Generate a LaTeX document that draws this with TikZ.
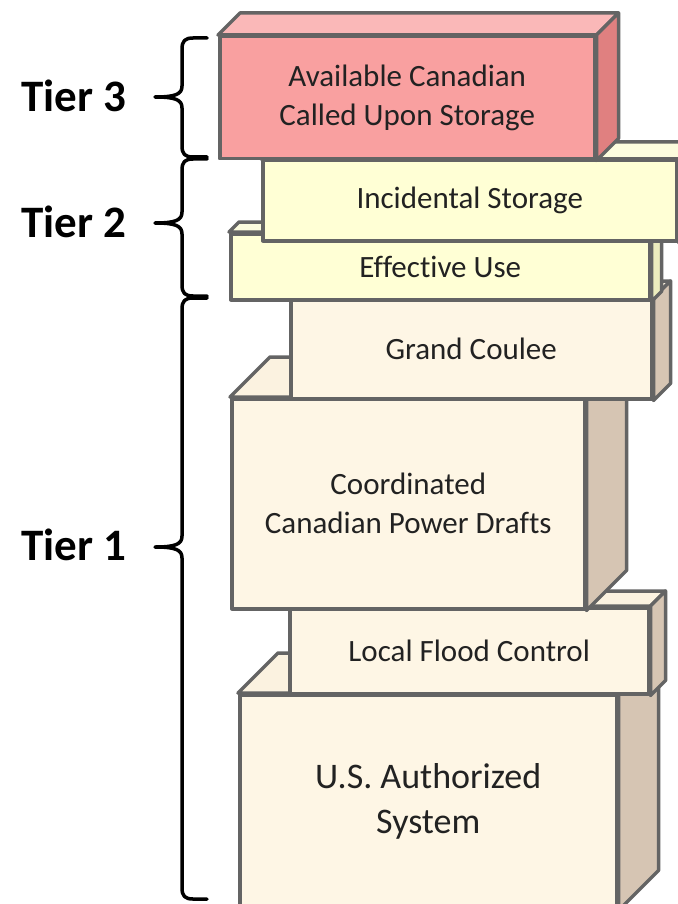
\documentclass[tikz,border=0pt]{standalone}
\usepackage{fontspec}
\setmainfont{Carlito}[Ligatures=NoCommon]
\usepackage{tikz}
\usetikzlibrary{positioning,shapes}

\definecolor{edgegray}{RGB}{100,100,100}
\definecolor{textgray}{RGB}{34,34,34}
\definecolor{redfront}{RGB}{249,160,160}
\definecolor{redtop}{RGB}{250,184,184}
\definecolor{redside}{RGB}{224,128,128}
\definecolor{yellowfront}{RGB}{255,255,213}
\definecolor{yellowtop}{RGB}{252,252,222}
\definecolor{yellowside}{RGB}{236,236,190}
\definecolor{creamfront}{RGB}{254,246,229}
\definecolor{creamtop}{RGB}{251,242,224}
\definecolor{creamside}{RGB}{214,197,179}

% top and right faces of a block, from its front face node
\newcommand{\boxsides}[4]{%
  \draw[edge, fill=#3] (#1.north west) -- ++(#2,-#2)
    -- ([shift={(#2,-#2)}]#1.north east) -- (#1.north east) -- cycle;
  \draw[edge, fill=#4] (#1.north east) -- ++(#2,-#2)
    -- ([shift={(#2,-#2)}]#1.south east) -- (#1.south east) -- cycle;
}

% curly brace: top, tip, bottom
\newcommand{\tierbrace}[3]{%
  \draw[curly] (207,#1) -- (193,#1)
    .. controls (185,#1) and (182,#1+3) .. (182,#1+11)
    -- (182,#2-11) .. controls (182,#2-3) and (176,#2) .. (155,#2)
    .. controls (176,#2) and (182,#2+3) .. (182,#2+11)
    -- (182,#3-11) .. controls (182,#3-3) and (185,#3) .. (193,#3)
    -- (207,#3);
}

\begin{document}
\begin{tikzpicture}[x=1pt,y=-1pt]
	\tikzstyle{face}
	  =[draw=edgegray, line width=3.5pt, rectangle, anchor=north west,
	  inner sep=0pt, align=center, text=textgray, line join=round,
	  font=\fontsize{31}{39}\selectfont]
	\tikzstyle{edge}=[draw=edgegray, line width=3.5pt, line join=round]
	\tikzstyle{tier}=[anchor=base, font=\fontsize{45}{54}\selectfont\bfseries]
	\tikzstyle{curly}=[line width=3.5pt, line cap=round, line join=round]

	\useasboundingbox (0,0) rectangle (677,904);

	% blocks, from the bottom of the stack up
	\node[face, fill=creamfront, minimum width=377pt, minimum height=214pt,
	  font=\fontsize{36}{45}\selectfont] (usa)
	  at (238,693) {U.S. Authorized\\System};
	\boxsides{usa}{40}{creamtop}{creamside}

	\node[face, fill=creamfront, minimum width=359pt, minimum height=86pt] (flood)
	  at (288,606) {Local Flood Control};
	\boxsides{flood}{15}{creamtop}{creamside}

	\node[face, fill=creamfront, minimum width=353pt, minimum height=210pt] (drafts)
	  at (230,397) {Coordinated\\Canadian Power Drafts};
	\boxsides{drafts}{40}{creamtop}{creamside}

	\node[face, fill=creamfront, minimum width=361pt, minimum height=99pt] (coulee)
	  at (289,298) {Grand Coulee};
	\boxsides{coulee}{17}{creamtop}{creamside}

	\node[face, fill=yellowfront, minimum width=419pt, minimum height=66pt] (effective)
	  at (229,232) {Effective Use};
	\boxsides{effective}{10}{yellowtop}{yellowside}

	\node[face, fill=yellowfront, minimum width=414pt, minimum height=80pt] (incidental)
	  at (261,159) {Incidental Storage};
	\boxsides{incidental}{17}{yellowtop}{yellowside}

	\node[face, fill=redfront, minimum width=375pt, minimum height=122pt] (canadian)
	  at (218,35) {Available Canadian\\Called Upon Storage};
	\boxsides{canadian}{22}{redtop}{redside}

	% tiers
	\node[tier] (tier3) at (74,112) {Tier 3};
	\node[tier] (tier2) at (74,237) {Tier 2};
	\node[tier] (tier1) at (74,560) {Tier 1};

	\tierbrace{38}{97}{157}
	\tierbrace{159}{223}{296}
	\tierbrace{298}{547}{899}
\end{tikzpicture}
\end{document}
